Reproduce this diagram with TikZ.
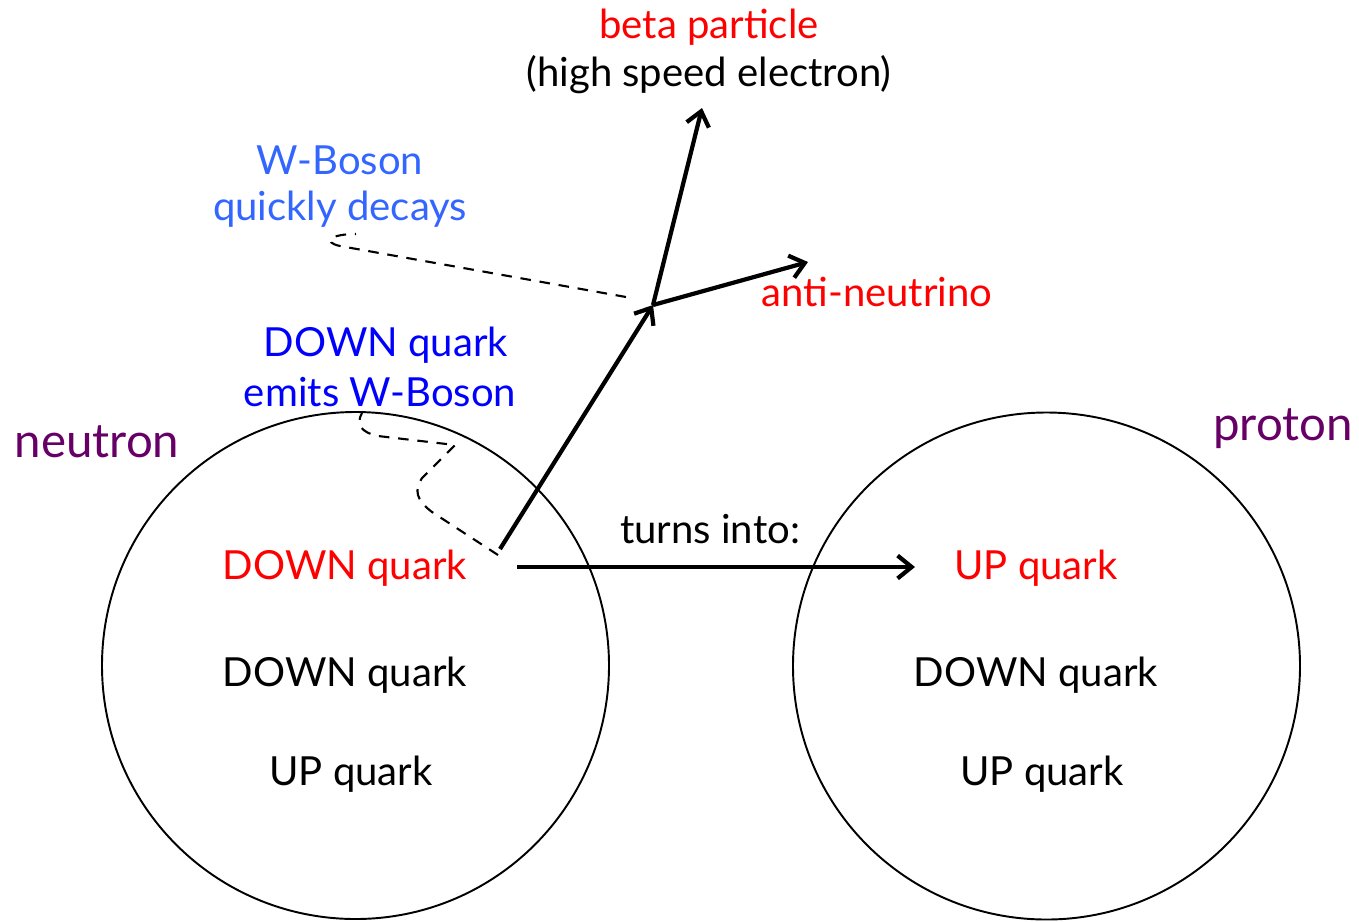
\documentclass[tikz,border=0pt]{standalone}
\usepackage{fontspec}
\setmainfont{Lato}
\usetikzlibrary{arrows.meta}
\definecolor{qRed}{HTML}{FF0000}
\definecolor{qBlue}{HTML}{0000FF}
\definecolor{wBlue}{HTML}{3366FF}
\definecolor{nucPurple}{HTML}{660066}

\begin{document}
\begin{tikzpicture}[x=0.02cm,y=-0.02cm,>={Straight Barb[length=8pt,width=13pt]},
  lbl/.style={inner sep=0pt,font=\fontsize{22.8}{27}\selectfont},
  nuc/.style={inner sep=0pt,text=nucPurple,font=\fontsize{27}{32}\selectfont},
  track/.style={->,line width=2.4pt},
  wline/.style={dashed,line width=1.2pt,dash pattern=on 6pt off 5pt}]
\useasboundingbox (0,0) rectangle (1359,921);
% nucleons
\draw[line width=1.1pt] (355.5,665.5) circle[radius=253.5];
\draw[line width=1.1pt] (1046.5,666) circle[radius=253.5];
\node[nuc] (neutron) at (97,442) {neutron};
\node[nuc] (proton) at (1283,429) {proton};
% quarks
\node[lbl,text=qRed] (nd1) at (345,568) {DOWN quark};
\node[lbl] (nd2) at (345,675) {DOWN quark};
\node[lbl] (nu1) at (351,774) {UP quark};
\node[lbl,text=qRed] (pu1) at (1036,568) {UP quark};
\node[lbl] (pd1) at (1036,675) {DOWN quark};
\node[lbl] (pu2) at (1042,774) {UP quark};
\node[lbl] (turn) at (710,529) {turns into:};
% decay labels
\node[lbl,text=qRed] (beta) at (709,27) {beta particle};
\node[lbl] (elec) at (709,75) {(high speed electron)};
\node[lbl,text=wBlue] (wb) at (340,160) {W-Boson};
\node[lbl,text=wBlue] (decay) at (340,209) {quickly decays};
\node[lbl,text=qRed] (anu) at (877,292) {anti-neutrino};
\node[lbl,text=qBlue] (emit1) at (386,345) {DOWN quark};
\node[lbl,text=qBlue] (emit2) at (380,392) {emits W-Boson};
% track ends
\coordinate (vtx) at (653,305);
\coordinate (wstart) at (500,549);
\coordinate (betaEnd) at (702,108);
\coordinate (nuEnd) at (808,262);
\coordinate (convA) at (517,567);
\coordinate (convB) at (915,567);
\draw[track] (convA) -- (convB);
\draw[track] (wstart) -- (vtx);
\draw[track] (vtx) -- (betaEnd);
\draw[track] (vtx) -- (nuEnd);
% pointers
\coordinate (emitTip) at (362,413);
\coordinate (decayTip) at (356,234);
\draw[wline] (498,555) -- (432,512) .. controls (416,500) and (414,490) .. (422,478)
  -- (455,445) -- (378,436) .. controls (360,432) and (356,424) .. (emitTip);
\draw[wline] (626,297) -- (340,246) .. controls (322,242) and (330,234) .. (decayTip);
\end{tikzpicture}
\end{document}
